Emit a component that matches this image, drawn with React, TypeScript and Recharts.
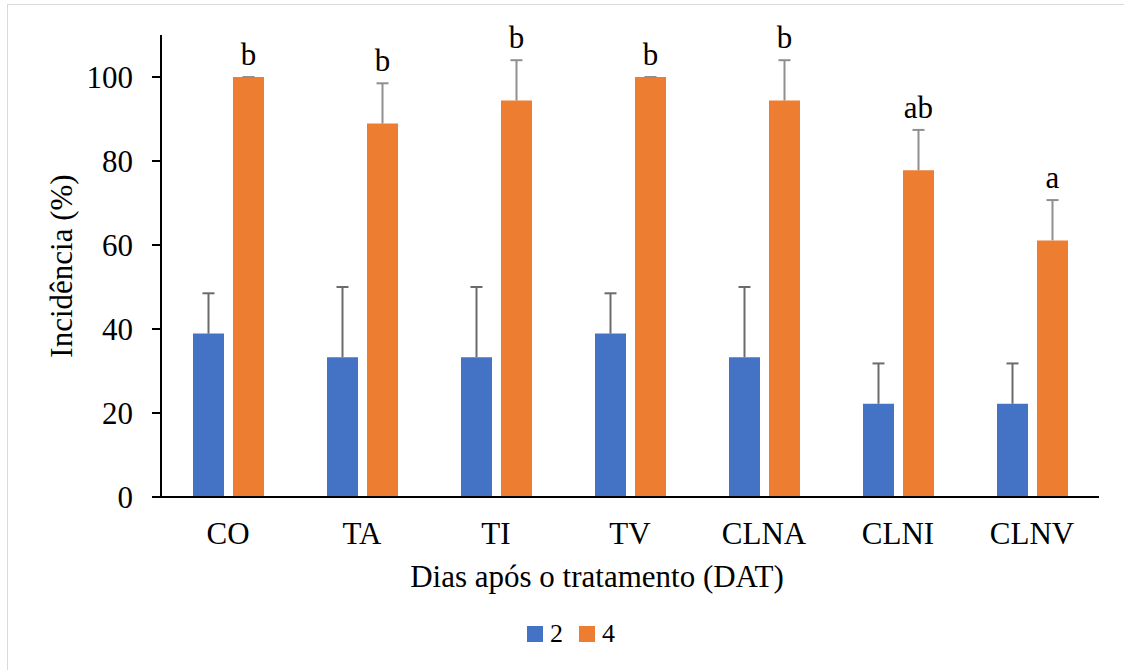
import { Bar, BarChart, Label, LabelList, XAxis, YAxis } from 'recharts';

const categories = ['CO', 'TA', 'TI', 'TV', 'CLNA', 'CLNI', 'CLNV'];
const day2 = [38.9, 33.3, 33.3, 38.9, 33.3, 22.2, 22.2];
const day2Err = [9.6, 16.7, 16.7, 9.6, 16.7, 9.6, 9.6];
const day4 = [100, 88.9, 94.4, 100, 94.4, 77.8, 61.1];
const day4Err = [0, 9.6, 9.6, 0, 9.6, 9.6, 9.6];
const letters = ['b', 'b', 'b', 'b', 'b', 'ab', 'a'];
const yTicks = [0, 20, 40, 60, 80, 100];

const data = categories.map((name, i) => ({
  name,
  d2: day2[i],
  d4: day4[i],
  letter: letters[i],
}));

const FONT = 'Liberation Serif, Times New Roman, serif';

// upper-only error bar, scaled from the bar's own pixel height
function makeErrorBar(values: number[], errs: number[], color: string) {
  return function ErrBar(props: any) {
    const { x, y, width, height, index } = props;
    const top = y - (height * errs[index]) / values[index];
    const cx = x + width / 2;
    return (
      <g stroke={color} strokeWidth={2}>
        <line x1={cx} y1={y} x2={cx} y2={top} />
        <line x1={cx - 6} y1={top} x2={cx + 6} y2={top} />
      </g>
    );
  };
}

const Err2 = makeErrorBar(day2, day2Err, '#6b6b6b');
const Err4 = makeErrorBar(day4, day4Err, '#8f8f8f');

// letter sits above the error bar cap
function LetterLabel(props: any) {
  const { x, y, width, height, index } = props;
  const top = y - (height * day4Err[index]) / day4[index];
  return (
    <text x={x + width / 2} y={top - 12} textAnchor="middle" fontFamily={FONT} fontSize={31} fill="#000">
      {letters[index]}
    </text>
  );
}

// x title sits a bit left of the plot centre, as in the source figure
function XTitle(props: any) {
  const { viewBox } = props;
  return (
    <text
      x={viewBox.x + viewBox.width / 2 - 33}
      y={viewBox.y + viewBox.height + 30}
      textAnchor="middle"
      fontFamily={FONT}
      fontSize={31}
      fill="#000"
    >
      Dias após o tratamento (DAT)
    </text>
  );
}

export default function App() {
  return (
    <div style={{ position: 'relative', width: 1124, height: 670, background: '#fff', fontFamily: FONT }}>
      <style>{`body{margin:0}`}</style>
      <div style={{ position: 'absolute', left: 7, top: 4, right: 0, bottom: 0, borderTop: '1px solid #d9d9d9', borderLeft: '1px solid #d9d9d9' }} />
      <BarChart
        width={1124}
        height={670}
        data={data}
        margin={{ top: 35, right: 25, left: 81, bottom: 113 }}
        barCategoryGap={32}
        barGap={9}
        style={{ position: 'absolute', left: 0, top: 0 }}
      >
        <XAxis
          dataKey="name"
          tickLine={false}
          tickSize={0}
          tickMargin={25}
          height={60}
          axisLine={{ stroke: '#000', strokeWidth: 2 }}
          tick={{ fill: '#000', fontSize: 31, fontFamily: FONT }}
        >
          <Label content={XTitle} />
        </XAxis>
        <YAxis
          domain={[0, 110]}
          ticks={yTicks}
          width={80}
          tickSize={9}
          tickMargin={19}
          axisLine={{ stroke: '#000', strokeWidth: 2 }}
          tickLine={{ stroke: '#000', strokeWidth: 2 }}
          tick={{ fill: '#000', fontSize: 31, fontFamily: FONT }}
        >
          <Label
            value="Incidência (%)"
            angle={-90}
            position="insideLeft"
            offset={-20}
            style={{ fill: '#000', fontSize: 31, fontFamily: FONT, textAnchor: 'middle' }}
          />
        </YAxis>
        <Bar dataKey="d2" fill="#4472C4" isAnimationActive={false}>
          <LabelList dataKey="d2" content={Err2} />
        </Bar>
        <Bar dataKey="d4" fill="#ED7D31" isAnimationActive={false}>
          <LabelList dataKey="d4" content={Err4} />
          <LabelList dataKey="letter" content={LetterLabel} />
        </Bar>
      </BarChart>
      <div
        style={{
          position: 'absolute', left: 527, top: 634, transform: 'translateY(-50%)',
          display: 'flex', alignItems: 'center', fontSize: 26, fontFamily: FONT, color: '#000',
        }}
      >
        <span style={{ width: 16, height: 16, background: '#4472C4', display: 'inline-block', marginRight: 7 }} />
        <span style={{ marginRight: 16 }}>2</span>
        <span style={{ width: 16, height: 16, background: '#ED7D31', display: 'inline-block', marginRight: 7 }} />
        <span>4</span>
      </div>
    </div>
  );
}
